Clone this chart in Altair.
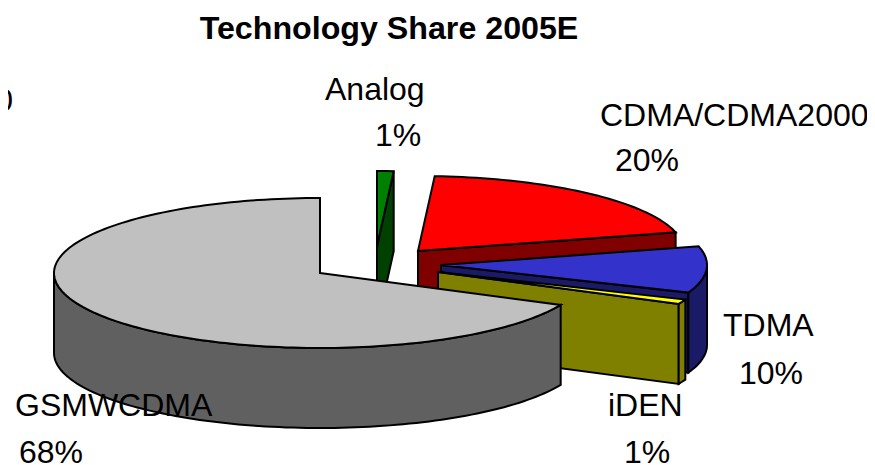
import math
import altair as alt

# ---- values
names = ["Analog", "CDMA/CDMA2000", "TDMA", "iDEN", "GSMWCDMA"]
shares = [1, 20, 10, 1, 68]
top_colors = ["#008000", "#FF0000", "#3333CC", "#FFFF00", "#C0C0C0"]
side_colors = ["#004000", "#800000", "#1A1A66", "#808000", "#606060"]

# ---- 3-D pie style (pixels inside the chart; chart origin is page 8,8)
RX, RY, DEPTH = 266, 75, 80
apex = {
    "Analog": (369, 238),
    "CDMA/CDMA2000": (410, 243),
    "TDMA": (433, 257),
    "iDEN": (430, 264),
    "GSMWCDMA": (312, 265),
}
FONT = "Liberation Sans"


def rim(c, deg):
    t = math.radians(deg)
    return (c[0] + RX * math.sin(t), c[1] - RY * math.cos(t))


def drop(p):
    return (p[0], p[1] + DEPTH)


def arc(c, a0, a1, step=1.5):
    n = max(1, int(abs(a1 - a0) / step))
    return [rim(c, a0 + (a1 - a0) * i / n) for i in range(n + 1)]


def feature(ring, fill, part):
    ring = [list(p) for p in ring] + [list(ring[0])]
    return {
        "type": "Feature",
        "geometry": {"type": "Polygon", "coordinates": [ring]},
        "properties": {"fill": fill, "part": part},
    }


features = []
start = 0.0
for name, share, top, side in zip(names, shares, top_colors, side_colors):
    end = start + share * 3.6
    c = apex[name]
    # cut face at the clockwise end of the slice, when it looks at the viewer
    if end < 180:
        e = rim(c, end)
        features.append(feature([c, e, drop(e), drop(c)], side, name + " cut"))
    # outer wall: only the part on the near half of the ellipse
    a0, a1 = max(start, 90), min(end, 270)
    if a1 > a0:
        r = arc(c, a0, a1)
        features.append(feature(r + [drop(p) for p in reversed(r)], side, name + " wall"))
    # top face
    features.append(feature([c] + arc(c, start, end), top, name + " top"))
    start = end

pie = (
    alt.Chart(alt.Data(values=features))
    .mark_geoshape(stroke="black", strokeWidth=2, strokeJoin="miter")
    .encode(fill=alt.Fill("properties.fill:N", scale=None))
    .project(type="identity", scale=1, translate=[0, 0])
)


def label(text, x, y, size=32, weight="normal", align="left"):
    return (
        alt.Chart(alt.Data(values=[{"t": text}]))
        .mark_text(font=FONT, fontSize=size, fontWeight=weight, align=align,
                   baseline="alphabetic", color="black")
        .encode(x=alt.value(x), y=alt.value(y), text="t:N")
    )


pct = [f"{s}%" for s in shares]
layers = [
    pie,
    label("Technology Share 2005E", 381, 31, size=32.2, weight="bold", align="center"),
    label("0", 5, 103, align="right"),
    label(names[0], 317, 92),
    label(pct[0], 367, 138),
    label(names[1], 592, 118),
    label(pct[1], 607, 163),
    label(names[2], 715, 328),
    label(pct[2], 731, 376),
    label(names[3], 600, 408),
    label(pct[3], 616, 455),
    label(names[4], 7, 408),
    label(pct[4], 11, 455),
]

chart = (
    alt.layer(*layers)
    .properties(width=859, height=457, padding=0, autosize=alt.AutoSizeParams(type="none"))
    .configure_view(stroke=None)
)

chart.save("out.html", embed_options={"renderer": "svg", "actions": False})
